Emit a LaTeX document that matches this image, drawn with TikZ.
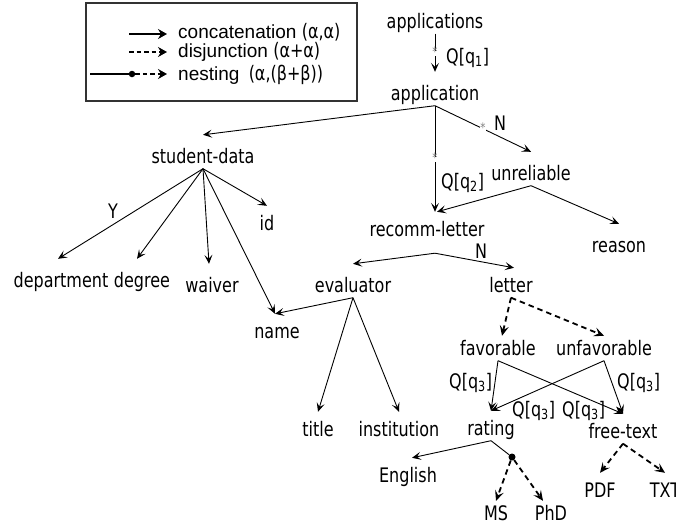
\documentclass[tikz,border=0pt]{standalone}
\usepackage{fontspec}
\setmainfont{DejaVu Sans}[FakeStretch=0.8]
\newfontfamily\legendfont{Liberation Sans}
\newfontfamily\legsymfont{DejaVu Sans}[FakeStretch=0.8]
\usetikzlibrary{arrows.meta}

\begin{document}
\begin{tikzpicture}[x=1pt,y=-1pt,
  every node/.style={inner sep=0pt},
  tnode/.style={font=\fontsize{20}{22}\selectfont, anchor=base,
                text height=24pt, text depth=5.5pt},
  tall/.style={text height=28pt},
  short/.style={text height=19pt},
  lbl/.style={font=\fontsize{20}{22}\selectfont, anchor=base west},
  ast/.style={font=\fontsize{13}{13}\selectfont, text=black!50, fill=white,
              text height=5pt, text depth=0pt, anchor=base, yshift=-3.5pt},
  cat/.style={-{Stealth[length=9pt,width=8pt,inset=4pt]}, line width=0.9pt},
  dis/.style={-{Stealth[length=10pt,width=9pt,inset=4pt]}, line width=1.8pt,
              dash pattern=on 5.5pt off 4pt},
  nestdot/.style={circle, fill=black, minimum size=7pt},
  legtext/.style={font=\legendfont\fontsize{19}{22}\selectfont, anchor=base west},
  legcat/.style={-{Stealth[length=9pt,width=10pt,inset=3pt]}, line width=1.6pt},
  legdis/.style={-{Stealth[length=9pt,width=10pt,inset=3pt]}, line width=1.6pt,
                 dash pattern=on 4.5pt off 3pt},
]
\useasboundingbox (0,0) rectangle (676,530);

% legend
\draw[line width=1.2pt, draw=black!80] (86,3) rectangle (357,101);
\newcommand\gk{\legsymfont\fontsize{20}{22}\selectfont}
\coordinate (c1a) at (129,34);  \coordinate (c1b) at (167,34);
\coordinate (c2a) at (129,52);  \coordinate (c2b) at (167,52);
\coordinate (c3a) at (90,74);   \coordinate (c3b) at (167,74);
\node[nestdot, minimum size=6.5pt] (c3dot) at (132,74) {};
\draw[legcat] (c1a) -- (c1b);
\draw[legdis] (c2a) -- (c2b);
\draw[line width=1.6pt] (c3a) -- (c3dot);
\draw[legdis] (c3dot) -- (c3b);
\node[legtext] (l1) at (178,38) {concatenation {\gk(α,α)}};
\node[legtext] (l2) at (178,57) {disjunction {\gk(α+α)}};
\node[legtext] (l3) at (178,80) {nesting\hspace{4pt} {\gk(α,(β+β))}};

% element nodes
\node[tnode] (apps) at (435,28) {applications};
\node[tnode,tall] (app) at (435,100) {application};
\node[tnode,tall] (sd) at (203,163) {student-data};
\node[tnode,tall] (unrel) at (531,180) {unreliable};
\node[tnode,text depth=17pt] (rl) at (427,236) {recomm-letter};
\node[tnode,tall] (reason) at (619,252) {reason};
\node[tnode] (id) at (267,230) {id};
\node[tnode,tall] (dept) at (61,287) {department};
\node[tnode,tall] (degree) at (142,287) {degree};
\node[tnode,tall] (waiver) at (212,292) {waiver};
\node[tnode,tall] (eval) at (353,292) {evaluator};
\node[tnode] (letter) at (511,292) {letter};
\node[tnode] (name) at (277,338) {name};
\node[tnode] (title) at (318,436) {title};
\node[tnode] (inst) at (399,436) {institution};
\node[tnode,short] (fav) at (498,355) {favorable};
\node[tnode,short] (unfav) at (604,355) {unfavorable};
\node[tnode] (rating) at (491,435) {rating};
\node[tnode] (ft) at (623,438) {free-text};
\node[tnode] (english) at (408,482) {English};
\node[tnode,short] (ms) at (496,520) {MS};
\node[tnode,short] (phd) at (551,520) {PhD};
\node[tnode] (pdf) at (600,497) {PDF};
\node[tnode] (txt) at (665,497) {TXT};
\node[nestdot] (nest) at (512,457) {};

% edge labels
\node[lbl] (q1) at (446,63) {Q[q\textsubscript{1}]};
\node[lbl] (n1) at (494,130) {N};
\node[lbl] (q2) at (441,188) {Q[q\textsubscript{2}]};
\node[lbl] (n2) at (475,258) {N};
\node[lbl] (y1) at (108,218) {Y};
\node[lbl] (q3a) at (449,388) {Q[q\textsubscript{3}]};
\node[lbl] (q3b) at (617,388) {Q[q\textsubscript{3}]};
\node[lbl] (q3c) at (512,416) {Q[q\textsubscript{3}]};
\node[lbl] (q3d) at (562,416) {Q[q\textsubscript{3}]};

% concatenation edges
\draw[cat] (apps.south) -- node[ast] {*} (app.north);
\draw[cat] (app.south) -- (sd.north);
\draw[cat] (app.south) -- node[ast] {*} (unrel.north);
\draw[cat] (app.south) -- node[ast] {*} ([xshift=8pt]rl.north);
\draw[cat] (unrel.south) -- ([xshift=10pt]rl.north);
\draw[cat] (unrel.south) -- (reason.north);
\draw[cat] ([xshift=8pt]rl.south) -- (eval.north);
\draw[cat] ([xshift=8pt]rl.south) -- ([xshift=3pt]letter.north);
\draw[cat] (sd.south) -- ([xshift=-3pt]dept.north);
\draw[cat] (sd.south) -- ([xshift=-5pt]degree.north);
\draw[cat] (sd.south) -- ([xshift=-3pt]waiver.north);
\draw[cat] (sd.south) -- (id.north);
\draw[cat] (sd.south) -- ([xshift=-2pt]name.north);
\draw[cat] (eval.south) -- ([xshift=-2pt]name.north);
\draw[cat] (eval.south) -- (title.north);
\draw[cat] (eval.south) -- (inst.north);
\draw[cat] (fav.south) -- (rating.north);
\draw[cat] (fav.south) -- (ft.north);
\draw[cat] (unfav.south) -- (rating.north);
\draw[cat] (unfav.south) -- (ft.north);
\draw[cat] (rating.south) -- ([xshift=4pt]english.north);
\draw[line width=0.9pt] (rating.south) -- (nest);

% disjunction edges
\draw[dis] (letter.south) -- ([xshift=4pt]fav.north);
\draw[dis] (letter.south) -- (unfav.north);
\draw[dis] (nest) -- (ms.north);
\draw[dis] (nest) -- ([xshift=-8pt]phd.north);
\draw[dis] (ft.south) -- (pdf.north);
\draw[dis] (ft.south) -- (txt.north);
\end{tikzpicture}
\end{document}
